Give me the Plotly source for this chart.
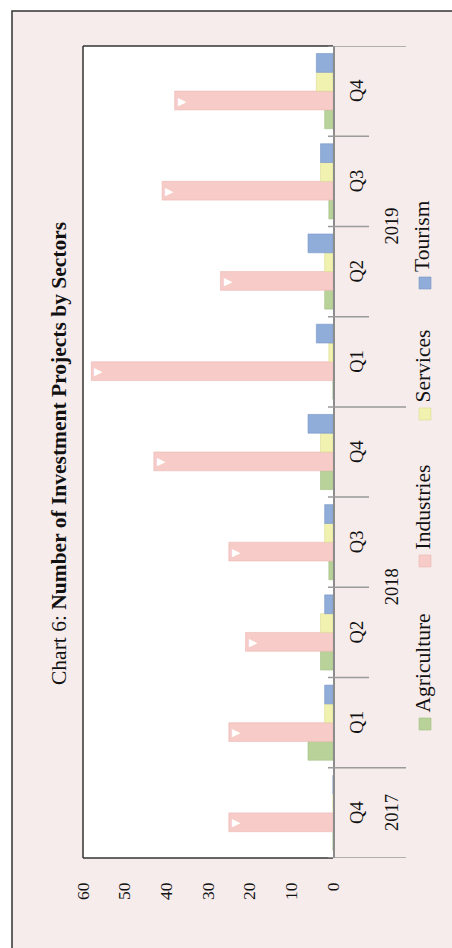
import plotly.graph_objects as go

# ---- data ----
periods = ["2017 Q4", "2018 Q1", "2018 Q2", "2018 Q3", "2018 Q4",
           "2019 Q1", "2019 Q2", "2019 Q3", "2019 Q4"]
quarters = ["Q4", "Q1", "Q2", "Q3", "Q4", "Q1", "Q2", "Q3", "Q4"]
years = ["2017", "2018", "2019"]
year_centers = [0, 2.5, 6.5]
agriculture = [0, 6, 3, 1, 3, 0, 2, 1, 2]
industries = [25, 25, 21, 25, 43, 58, 27, 41, 38]
services = [0, 2, 3, 2, 3, 1, 2, 3, 4]
tourism = [0, 2, 2, 2, 6, 4, 6, 3, 4]
x_ticks = [0, 10, 20, 30, 40, 50, 60]

series = [
    ("Agriculture", agriculture, "#B9D29A", "#A3BF82"),
    ("Industries", industries, "#F6CBC8", "#EDB8B4"),
    ("Services", services, "#F1F1B0", "#DCDC94"),
    ("Tourism", tourism, "#90ACD8", "#7897C8"),
]

# plot area in screen pixels (page body margin removed below)
L, R, T, B = 83, 333, 46, 858
W, H = 452, 948


def X(px):
    return (px - L) / (R - L)


def Y(py):
    return (B - py) / (B - T)


FONT = "Liberation Serif, Times New Roman, serif"

fig = go.Figure()
for name, vals, col, edge in series:
    kw = {}
    if name == "Industries":
        kw = dict(text=["▶"] * len(vals), texttemplate="▶",
                  textposition="inside", insidetextanchor="end",
                  textangle=0, constraintext="none",
                  textfont=dict(color="white", size=11))
    fig.add_trace(go.Bar(
        y=periods, x=vals, name=name, orientation="h",
        marker=dict(color=col, line=dict(color=edge, width=0.6)),
        showlegend=False, **kw))

shapes = [
    # pink page panel
    dict(type="rect", xref="paper", yref="paper", x0=X(12), x1=X(490),
         y0=Y(990), y1=Y(11), fillcolor="#F7ECEC",
         line=dict(color="#333333", width=1.5), layer="below"),
    # white plot area
    dict(type="rect", xref="paper", yref="paper", x0=0, x1=1, y0=0, y1=1,
         fillcolor="white", line=dict(width=0), layer="below"),
    # plot border (left, top, bottom)
    dict(type="line", xref="paper", yref="paper", x0=0, x1=0, y0=0, y1=1,
         line=dict(color="#333333", width=1.5)),
    dict(type="line", xref="paper", yref="paper", x0=0, x1=1, y0=1, y1=1,
         line=dict(color="#333333", width=1.5)),
    dict(type="line", xref="paper", yref="paper", x0=0, x1=1, y0=0, y1=0,
         line=dict(color="#333333", width=1.5)),
]

# category dividers
year_bounds = [-0.5, 0.5, 4.5, 8.5]
quarter_bounds = [1.5, 2.5, 3.5, 5.5, 6.5, 7.5]
for b in year_bounds:
    shapes.append(dict(type="line", xref="paper", yref="y", x0=X(328), x1=X(406),
                       y0=b, y1=b, line=dict(color="#9a9a9a", width=1.5)))
for b in quarter_bounds:
    shapes.append(dict(type="line", xref="paper", yref="y", x0=X(328), x1=X(369),
                       y0=b, y1=b, line=dict(color="#9a9a9a", width=1.5)))

annotations = []
# title
annotations.append(dict(
    xref="paper", yref="paper", x=X(45), y=Y(454), textangle=-90,
    text="Chart 6: <b>Number of Investment Projects by Sectors</b>",
    showarrow=False, font=dict(family=FONT, size=21.5, color="#111111")))
# quarter labels
for p, q in zip(periods, quarters):
    annotations.append(dict(xref="paper", yref="y", x=X(369), y=p, text=q,
                            textangle=-90, showarrow=False,
                            font=dict(family=FONT, size=18.5, color="#111111")))
# year labels
for yr, c in zip(years, year_centers):
    annotations.append(dict(xref="paper", yref="y", x=X(404), y=c, text=yr,
                            textangle=-90, showarrow=False,
                            font=dict(family=FONT, size=18.5, color="#111111")))

# legend (rotated, manual)
legend_pos = [724, 561, 414, 283]
for (name, vals, col, edge), cy in zip(series, legend_pos):
    shapes.append(dict(type="rect", xref="paper", yref="paper",
                       x0=X(419), x1=X(431), y0=Y(cy + 6), y1=Y(cy - 6),
                       fillcolor=col, line=dict(color=edge, width=0.6)))
    annotations.append(dict(xref="paper", yref="paper", x=X(436), y=Y(cy - 9),
                            yanchor="bottom", text=name, textangle=-90,
                            showarrow=False,
                            font=dict(family=FONT, size=21.5, color="#111111")))

fig.update_layout(
    width=W, height=H, autosize=False,
    margin=dict(l=L, r=W - R, t=T, b=H - B, pad=0),
    paper_bgcolor="white", plot_bgcolor="white",
    barmode="group", bargap=0.167, bargroupgap=0,
    shapes=shapes, annotations=annotations,
    font=dict(family=FONT, size=17, color="#111111"),
    xaxis=dict(range=[60, 0], tickvals=x_ticks, tickangle=-90,
               showgrid=False, zeroline=False, showline=False, ticks="",
               ticklabelstandoff=20,
               tickfont=dict(family=FONT, size=17.5, color="#111111")),
    yaxis=dict(categoryorder="array", categoryarray=periods, side="right",
               showticklabels=False, showgrid=False, zeroline=False,
               showline=True, linecolor="#8c8c8c", linewidth=2, ticks="",
               range=[-0.5, 8.5]),
)

fig.write_html(
    "out.html",
    config={"displayModeBar": False},
    post_script="document.body.style.margin='0';document.body.style.overflow='hidden';",
)
